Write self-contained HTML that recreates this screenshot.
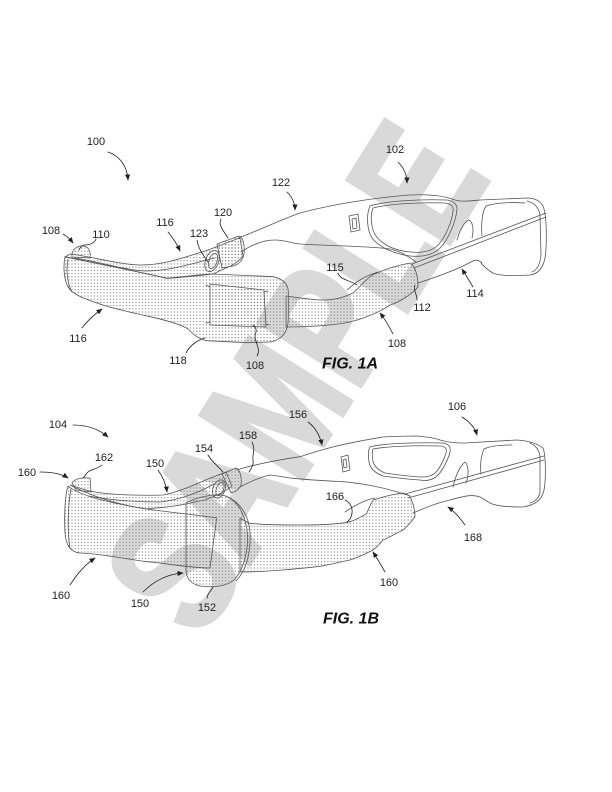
<!DOCTYPE html>
<html>
<head>
<meta charset="utf-8">
<style>
html,body{margin:0;padding:0;background:#fff;}
svg{display:block;}
</style>
</head>
<body>
<svg width="612" height="792" viewBox="0 0 612 792" xmlns="http://www.w3.org/2000/svg">
<defs>
<pattern id="d" width="3.2" height="3.2" patternUnits="userSpaceOnUse"><circle cx="1.6" cy="1.6" r="0.65" fill="#888"/></pattern>
<marker id="a" markerWidth="7" markerHeight="7" refX="5.5" refY="3" orient="auto" markerUnits="userSpaceOnUse"><path d="M0,0.4 L6,3 L0,5.6 Z" fill="#222"/></marker>
</defs>
<rect width="612" height="792" fill="#fff"/>

<!-- watermark -->
<text x="0" y="0" transform="translate(201,641) rotate(-58) scale(0.755,1)" font-family="'Liberation Sans', Arial, sans-serif" font-weight="bold" font-size="174" fill="#d9d9d9" stroke="#d9d9d9" stroke-width="5" stroke-linejoin="miter">SAMPLE</text>

<!-- ================= FIG 1A ================= -->
<g fill="url(#d)" stroke="#555" stroke-width="0.8" stroke-linejoin="round">
  <!-- right strap -->
  <path d="M286,296 C300,298 315,300 323,300 C335,300 345,297 353,293 C362,285 368,276 377,273 C388,268 400,265 410,263 C415,266 418,275 418,287 C412,294 400,302 390,305 C380,312 365,318 350,322 C330,326 305,327 286,327 Z"/>
  <!-- upper back strap -->
  <path d="M70,254 C90,256 115,264 140,265 C165,265 185,257 205,251 C220,246 230,241 240,238 L243,256 C238,262 232,266 226,268 L213,274 C195,276 178,278 166.7,278.3 C140,272 100,264 65,257 Z"/>
  <!-- 110 end piece -->
  <path d="M72,257 C71,250 77,245 84,246 C89,247 91,252 90,258 Z"/>
  <!-- sleeve 120 -->
  <path d="M217,244 L239,236 C243,236 245,246 244,254 C243,260 238,265 233,266 L222,268 Z"/>
  <!-- front piece -->
  <path d="M65,256.7 C100,264 140,272 166.7,278.3 C190,276 205,274 213.3,274 L273.3,276.7 C283,279 288.3,284 288.3,292 L288.3,318 C288.3,332 282,340 270,342 L246.7,342.7 L206.7,340.7 C198,339 193,334 188,329 C180,324 165,320 150,316.7 C130,312 110,308 100,304 C85,299 73,295 68,287 C64,280 63,266 65,256.7 Z"/>
  <!-- tab 108 -->
  <path d="M210,284 L264,290 L266,327 L210,325 Z"/>
</g>
<g fill="none" stroke="#555" stroke-width="0.8" stroke-linejoin="round" stroke-linecap="round">
  <path d="M75,258 C100,262 125,270 145,271 C170,271 190,264 215,258"/>
  <path d="M68,259 C66,270 67,283 72,292"/>
  <path d="M210,287 L206,285 M264,292 L268,291 M210,322 L206,323 M266,324 L269,325"/>
  <path d="M347,290 C355,283 362,277 378,272"/>
  <!-- ring 123 -->
  <ellipse cx="212" cy="261" rx="6.5" ry="11" transform="rotate(20 212 261)"/>
  <ellipse cx="213" cy="261" rx="4" ry="8" transform="rotate(20 213 261)"/>
  <!-- temple top + front -->
  <path d="M238,238 C260,230 280,220 300,213 C330,205 370,198 410,195 C430,194 445,196 455,200 C462,202 470,201 480,200 L527,198 C535,198 540,201 543,206 C547,215 547,245 545,258 C543,268 538,274 530,275 C515,276 500,276 493,273 C487,270 484,266 481,263"/>
  <path d="M527,201 C535,203 539,208 540,215 L541,255 C540,265 537,270 532,272"/>
  <!-- lower temple near -->
  <path d="M241,252 C250,246 262,240 275,240 C285,240 290,243 300,244 C330,246 370,246 390,249 C400,251 408,256 416,262"/>
  <!-- far temple bar -->
  <path d="M412,264 L546,213"/>
  <path d="M414,268 L546,217"/>
  <!-- lower temple 114 -->
  <path d="M418,283 C440,276 460,268 473,261 C477,259 480,261 482,263"/>
  <!-- left lens -->
  <path d="M370,206 C385,201 420,199 447,200 C453,201 457,204 457,209 C456,222 448,240 440,248 C432,256 420,257 410,256 C395,254 380,248 372,238 C367,230 366,215 370,206 Z"/>
  <path d="M373,208 C388,204 420,202 445,203 C451,204 454,206 453,211 C452,222 445,238 438,245 C431,252 420,253 411,252 C397,251 384,246 376,236 C371,229 370,216 373,208 Z"/>
  <!-- nose -->
  <path d="M457,240 C460,230 464,222 469,220 C473,222 474,230 472,238"/>
  <!-- right lens -->
  <path d="M486,206 C482,212 481,225 482,236"/>
  <path d="M486,206 C495,203 510,202 525,203"/>
  <!-- hinge clip -->
  <path d="M349,216 L358,214 L360,230 L351,232 Z"/>
  <path d="M352,219 L356,218 L357,228 L353,229 Z"/>
</g>

<!-- ================= FIG 1B ================= -->
<g fill="url(#d)" stroke="#555" stroke-width="0.8" stroke-linejoin="round">
  <!-- right band -->
  <path d="M240,518 C245,521 248,523 250,523.3 C265,525 283,525 300,525 C320,525 340,524 350,521.7 C358,519 363,516 366.7,513.3 C369,508 371,503 373.3,500 C385,496 395,494 403,493 C406,494 409,495 410,496.7 C413,503 415,510 415,516.7 C411,522 407,527 403,530 C395,534 390,537 383,540 C380,544 377,547 373,550 C365,554 357,558 350,560 C335,563 325,566 316.7,566.7 C305,568 295,569 283,570 C270,571 258,572 240,572 Z"/>
  <!-- upper back strap -->
  <path d="M86,490 C100,494 130,496 163,495 C180,492 200,482 213,477 L226,472 L232,486 C225,492 215,496 205,500 L190,503 C170,508 150,508 146.7,509 C120,505 95,498 70,485 Z"/>
  <!-- tail 162 -->
  <path d="M72,483 C74,479 82,477 90,478 L91,492 L76,490 Z"/>
  <!-- sleeve 154 -->
  <path d="M222,474 L236,468 C240,469 242,478 241,485 C239,490 235,492 231,493 Z"/>
  <!-- oval 152 -->
  <path d="M186,503 C195,498 210,494 222,495 C235,498 244,510 247,530 C249,550 244,568 235,579 C228,586 215,588 200,586 C191,584 186,578 186,570 Z"/>
  <!-- front strap -->
  <path d="M68,486 C80,496 110,503 146.7,509 C175,513 200,515 216.7,518 L210,568 C190,568 165,563 146.7,561.7 C120,558 95,553 80,553 C70,552 66,545 65,533 C64,515 65,495 68,486 Z"/>
</g>
<g fill="none" stroke="#555" stroke-width="0.8" stroke-linejoin="round" stroke-linecap="round">
  <path d="M88,496 C110,500 135,502 160,502 C180,500 200,492 214,484"/>
  <path d="M71,489 C68,505 67,530 70,548"/>
  <path d="M226,496 C240,502 249,515 250,533 C251,555 245,572 236,581"/>
  <path d="M345,512 C355,505 365,500 375,498"/>
  <!-- ring -->
  <ellipse cx="219" cy="489" rx="6" ry="9.5" transform="rotate(20 219 489)"/>
  <ellipse cx="220" cy="489" rx="3.6" ry="7" transform="rotate(20 220 489)"/>
  <!-- temple top + front -->
  <path d="M236,470 C250,466 270,461 300,456.7 C320,450 340,444 383,437 C400,436 410,436 417,436 C428,437 435,438 440,440 C450,443 458,443 465,443 L517,440 C530,441 538,444 543,448 C546,455 546,480 544,490 C542,500 535,505 523,507 C510,507 495,506 490,503 C485,500 482,498 480,497"/>
  <path d="M530,443 C537,446 540,452 540,458 L540,492 C539,498 536,501 530,503"/>
  <!-- lower temple near -->
  <path d="M240,487 C250,482 260,477 270,475 C280,476 287,478 293,478.3 C310,480 330,481 343,481.7 C360,483 380,487 390,490 C398,492 405,494 410,496"/>
  <!-- far temple bar -->
  <path d="M405,494 L544,456"/>
  <path d="M408,498 L544,460"/>
  <!-- lower temple 168 -->
  <path d="M413,513 C425,508 436,503 450,500 C465,496 472,494 480,497"/>
  <!-- left lens -->
  <path d="M370,447 C380,444 410,442 443,443 C449,444 451,447 450,452 C448,460 442,472 436,477 C430,481 425,481 420,480 C405,479 390,477 383,476 C375,473 370,468 369,462 C368,455 368,450 370,447 Z"/>
  <path d="M373,449 C383,447 410,445 441,446 C446,447 447,449 446,453 C444,460 439,470 434,474 C429,477 425,477 420,477 C406,476 392,474 385,473 C378,470 374,466 373,461 C372,455 372,451 373,449 Z"/>
  <!-- nose -->
  <path d="M453,487 C455,478 459,467 465,462 C469,466 469,475 466,483"/>
  <!-- right lens -->
  <path d="M484,449 C490,446 500,445 512,445"/>
  <path d="M484,449 C481,456 480,465 481,474"/>
  <!-- hinge -->
  <path d="M341,457 L348,455 L350,470 L343,472 Z"/>
  <path d="M343,460 L346,459 L347,467 L344,468 Z"/>
</g>

<!-- ================= leaders & arrows ================= -->
<g fill="none" stroke="#222" stroke-width="0.8" stroke-linecap="round">
  <!-- arrows 1A -->
  <path d="M108,152 C120,156 127,166 128,180" marker-end="url(#a)"/>
  <path d="M398,162 C404,168 407,175 407,183" marker-end="url(#a)"/>
  <path d="M287,192 C292,197 295,203 295,210" marker-end="url(#a)"/>
  <path d="M63,234 C67,236 70,239 73,243" marker-end="url(#a)"/>
  <path d="M168,232 C173,238 177,244 180,251" marker-end="url(#a)"/>
  <path d="M82,328 C88,320 95,314 102,309" marker-end="url(#a)"/>
  <path d="M473,287 C469,280 465,274 462,269" marker-end="url(#a)"/>
  <path d="M393,334 C389,326 384,318 380,313" marker-end="url(#a)"/>
  <!-- leaders 1A -->
  <path d="M96,239 C94,244 88,245 84,245 C81,246 80,248 79,250"/>
  <path d="M221,219 C218,225 223,230 228,238"/>
  <path d="M197,240 C198,248 203,255 208,262"/>
  <path d="M186,353 C190,345 198,340 205,338"/>
  <path d="M257,356 C262,348 252,340 256,332 C257,328 254,326 253,325"/>
  <path d="M338,273 C340,280 350,280 357,285"/>
  <path d="M417,300 C417,294 413,290 415,285"/>
  <!-- arrows 1B -->
  <path d="M73,425 C88,425 100,430 108,437" marker-end="url(#a)"/>
  <path d="M462,417 C470,422 475,428 477,435" marker-end="url(#a)"/>
  <path d="M308,422 C316,428 320,436 322,445" marker-end="url(#a)"/>
  <path d="M40,472 C52,472 62,474 68,478" marker-end="url(#a)"/>
  <path d="M158,470 C163,477 166,484 167,492" marker-end="url(#a)"/>
  <path d="M465,525 C460,518 454,511 448,507" marker-end="url(#a)"/>
  <path d="M70,585 C77,574 86,564 95,558" marker-end="url(#a)"/>
  <path d="M143,592 C155,580 168,574 183,573" marker-end="url(#a)"/>
  <path d="M385,572 C381,565 377,558 373,552" marker-end="url(#a)"/>
  <!-- leaders 1B -->
  <path d="M252,442 C256,450 252,455 253,460 C254,465 251,469 249,472"/>
  <path d="M208,455 C212,462 218,466 223,472"/>
  <path d="M102,465 C96,470 90,469 87,473 C85,476 84,477 83,478"/>
  <path d="M345,500 C353,504 353,512 351,517 C350,520 348,521 347,522"/>
  <path d="M207,598 C208,592 212,590 213,587"/>
</g>

<!-- ================= labels ================= -->
<g font-family="'Liberation Sans', Arial, sans-serif" font-size="11" fill="#222" text-anchor="middle">
  <text x="96" y="145">100</text>
  <text x="395" y="153">102</text>
  <text x="281" y="186">122</text>
  <text x="51" y="234">108</text>
  <text x="101" y="238">110</text>
  <text x="165" y="226">116</text>
  <text x="223" y="216">120</text>
  <text x="199" y="237">123</text>
  <text x="78" y="342">116</text>
  <text x="178" y="364">118</text>
  <text x="255" y="369">108</text>
  <text x="335" y="271">115</text>
  <text x="422" y="311">112</text>
  <text x="475" y="297">114</text>
  <text x="397" y="347">108</text>

  <text x="58" y="428">104</text>
  <text x="457" y="410">106</text>
  <text x="298" y="418">156</text>
  <text x="248" y="439">158</text>
  <text x="204" y="452">154</text>
  <text x="27" y="476">160</text>
  <text x="104" y="461">162</text>
  <text x="155" y="467">150</text>
  <text x="335" y="500">166</text>
  <text x="473" y="541">168</text>
  <text x="61" y="599">160</text>
  <text x="140" y="607">150</text>
  <text x="207" y="611">152</text>
  <text x="389" y="586">160</text>
</g>
<g font-family="'Liberation Sans', Arial, sans-serif" font-size="16" font-weight="bold" font-style="italic" fill="#111">
  <text x="322" y="368.5">FIG. 1A</text>
  <text x="323" y="623.5">FIG. 1B</text>
</g>
</svg>
</body>
</html>
